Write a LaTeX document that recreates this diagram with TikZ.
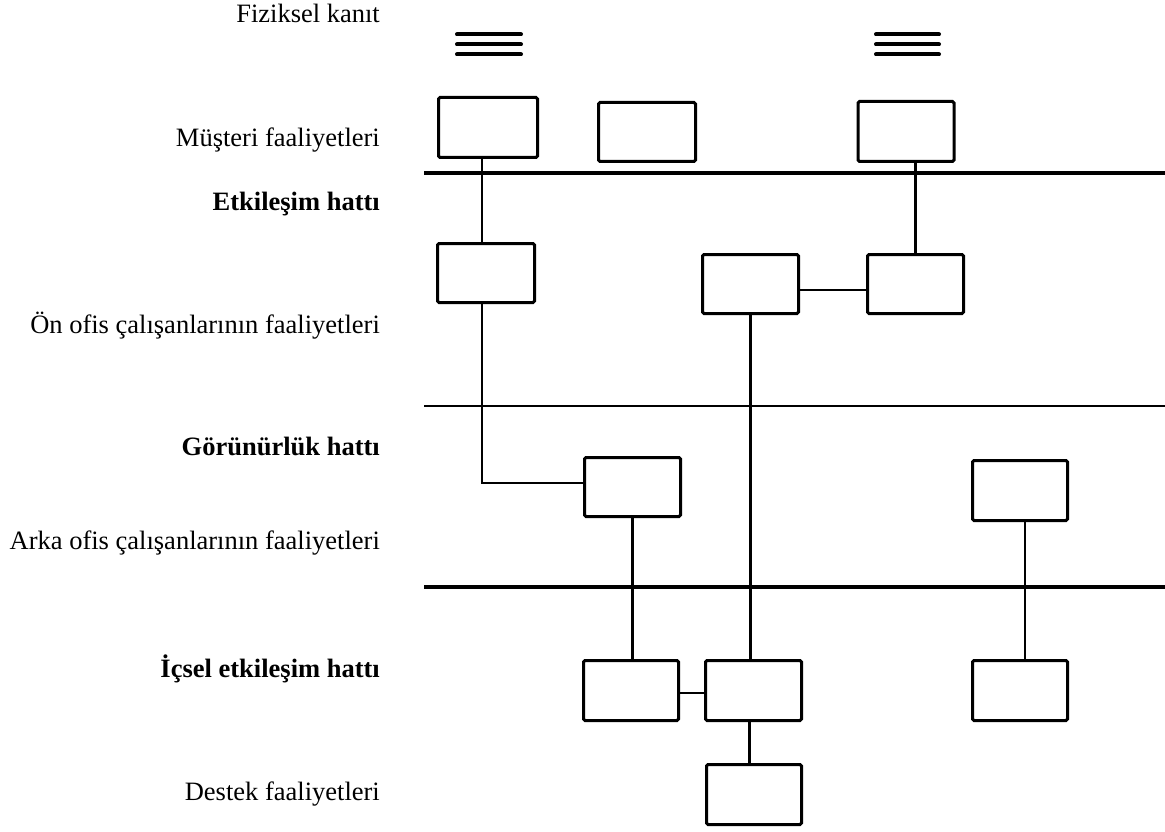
\documentclass[tikz,border=0pt]{standalone}
\usepackage{fontspec}
\setmainfont{Liberation Serif}
\begin{document}
\begin{tikzpicture}[x=1pt,y=-1pt,
  box/.style={draw=black,line width=3pt,rounded corners=1.5pt,inner sep=0pt,outer sep=0pt,
    minimum width=96pt,minimum height=60pt},
  conn/.style={draw=black,line width=2.5pt},
  sepline/.style={draw=black,line width=3.2pt},
  thinsep/.style={draw=black,line width=2.2pt},
  evid/.style={draw=black,line width=4pt,line cap=round},
  lab/.style={anchor=base east,inner sep=0pt,font=\fontsize{26.5}{30}\selectfont},
  blab/.style={lab,font=\fontsize{26.5}{30}\selectfont\bfseries}]
\useasboundingbox (0,0) rectangle (1165,832);

% labels
\node[lab]  (t1) at (380,23)  {Fiziksel kanıt};
\node[lab]  (t2) at (380,147) {Müşteri faaliyetleri};
\node[blab] (t3) at (380,210) {Etkileşim hattı};
\node[lab]  (t4) at (380,333) {Ön ofis çalışanlarının faaliyetleri};
\node[blab] (t5) at (380,455) {Görünürlük hattı};
\node[lab]  (t6) at (380,549) {Arka ofis çalışanlarının faaliyetleri};
\node[blab] (t7) at (380,677) {İçsel etkileşim hattı};
\node[lab]  (t8) at (380,800) {Destek faaliyetleri};

% physical evidence marks
\foreach \yy in {34.5,44.5,54.5}{
  \draw[evid] (457,\yy) -- (521,\yy);
  \draw[evid] (876,\yy) -- (939,\yy);
}

% separating lines
\coordinate (ia) at (424,173);  \coordinate (ib) at (1165,173);
\coordinate (va) at (424,406);  \coordinate (vb) at (1165,406);
\coordinate (na) at (424,587);  \coordinate (nb) at (1165,587);
\draw[sepline] (ia) -- (ib);
\draw[thinsep] (va) -- (vb);
\draw[sepline] (na) -- (nb);

% boxes
\node[box,minimum width=99pt,minimum height=60pt] (A) at (488,127.5) {};
\node[box,minimum width=97pt,minimum height=59pt] (B) at (647,132) {};
\node[box,minimum width=96pt,minimum height=60pt] (C) at (906,131.5) {};
\node[box,minimum width=97pt,minimum height=59pt] (D) at (486,273) {};
\node[box,minimum width=96pt,minimum height=59pt] (E) at (750.5,284) {};
\node[box,minimum width=96pt,minimum height=59pt] (F) at (915.5,284) {};
\node[box,minimum width=96pt,minimum height=59pt] (G) at (632.5,487) {};
\node[box,minimum width=95pt,minimum height=60pt] (H) at (1020,490.5) {};
\node[box,minimum width=95pt,minimum height=60pt] (I) at (631,690.5) {};
\node[box,minimum width=96pt,minimum height=60pt] (J) at (753.5,690.5) {};
\node[box,minimum width=95pt,minimum height=60pt] (K) at (1020,690.5) {};
\node[box,minimum width=95pt,minimum height=60pt] (L) at (754,794.5) {};

% connectors
\draw[conn] ([xshift=-6pt]A.south) -- ([xshift=-4pt]D.north);
\draw[conn] (F.north) -- (F.north |- C.south);
\draw[conn] ([yshift=-6pt]E.east) -- ([yshift=-6pt]F.west);
\draw[conn] (E.south) -- (E.south |- J.north);
\draw[conn] ([xshift=-4pt]D.south) |- ([yshift=4pt]G.west);
\draw[conn] (G.south) -- (G.south |- I.north);
\draw[conn] ([xshift=5pt]H.south) -- ([xshift=5pt]K.north);
\draw[conn] ([yshift=-2.5pt]I.east) -- ([yshift=-2.5pt]J.west);
\draw[conn] ([xshift=-4pt]J.south) -- ([xshift=-4pt]J.south |- L.north);
\end{tikzpicture}
\end{document}
